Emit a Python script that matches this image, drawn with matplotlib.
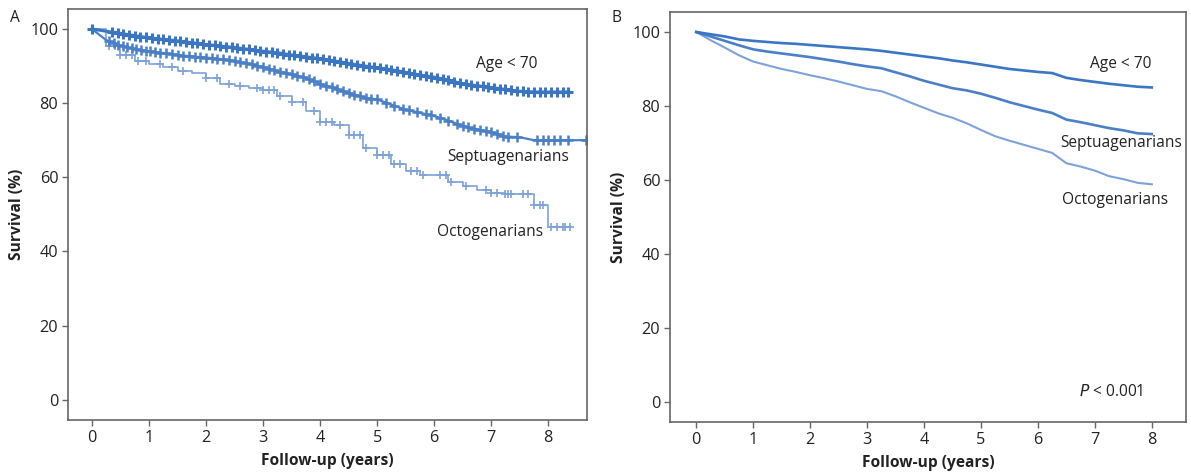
import numpy as np
import matplotlib
matplotlib.use("Agg")
import matplotlib.pyplot as plt

plt.rcParams['font.family'] = ['Open Sans', 'DejaVu Sans']

# ---- Panel A: Kaplan-Meier with censor marks ----
t_a = [0, 0.25, 0.5, 0.75, 1.0, 1.25, 1.5, 1.75, 2.0, 2.25, 2.5, 2.75, 3.0, 3.25,
       3.5, 3.75, 4.0, 4.25, 4.5, 4.75, 5.0, 5.25, 5.5, 5.75, 6.0, 6.25, 6.5, 6.75,
       7.0, 7.25, 7.5, 7.75, 8.0]
young_a = [100, 99.4, 98.8, 98.2, 97.6, 97.2, 96.8, 96.3, 95.8, 95.4, 95.0, 94.5, 94.0,
           93.6, 93.0, 92.5, 92.0, 91.4, 90.7, 90.1, 89.5, 89.0, 88.3, 87.6, 87.0, 86.2,
           85.2, 84.7, 84.2, 83.7, 83.2, 83.0, 83.0]
septa_a = [100, 97.0, 95.5, 94.6, 94.0, 93.5, 93.0, 92.6, 92.3, 91.9, 91.4, 90.6, 89.8,
           88.6, 87.8, 86.8, 85.2, 84.0, 82.8, 81.6, 81.0, 79.6, 78.2, 77.4, 76.5, 75.3,
           73.8, 72.9, 72.2, 71.0, 70.8, 70.0, 70.0]
octo_a = [100, 95.5, 93.0, 91.5, 90.5, 89.8, 88.8, 88.0, 86.8, 85.2, 84.5, 84.2, 83.5,
          82.0, 80.3, 78.0, 74.8, 74.2, 71.5, 68.0, 66.0, 63.6, 61.6, 60.5, 60.5, 58.6,
          57.6, 56.5, 55.8, 55.5, 55.5, 52.4, 46.5]
end_a = {'young': 8.35, 'septa': 8.67, 'octo': 8.38}

cens_young = [0.0, 0.35, 0.45, 0.55, 0.65, 0.75, 0.85, 0.95, 1.05, 1.15, 1.25, 1.35, 1.45,
              1.55, 1.65, 1.75, 1.85, 1.95, 2.05, 2.15, 2.25, 2.35, 2.45, 2.55, 2.65, 2.75,
              2.85, 2.95, 3.05, 3.15, 3.25, 3.35, 3.45, 3.55, 3.65, 3.75, 3.85, 3.95, 4.05,
              4.15, 4.25, 4.35, 4.45, 4.55, 4.65, 4.75, 4.85, 4.95, 5.05, 5.15, 5.25, 5.35,
              5.45, 5.55, 5.65, 5.75, 5.85, 5.95, 6.05, 6.15, 6.25, 6.35, 6.45, 6.55, 6.65,
              6.75, 6.85, 6.95, 7.05, 7.15, 7.25, 7.35, 7.45, 7.55, 7.65, 7.75, 7.85, 7.95,
              8.05, 8.15, 8.25, 8.35]
cens_septa = [0.3, 0.38, 0.46, 0.54, 0.62, 0.7, 0.78, 0.86, 0.94, 1.02, 1.1, 1.2, 1.3,
              1.4, 1.5, 1.6, 1.7, 1.8, 1.9, 2.0, 2.1, 2.2, 2.3, 2.4, 2.5, 2.6, 2.7, 2.8,
              2.9, 3.0, 3.1, 3.2, 3.3, 3.4, 3.5, 3.6, 3.7, 3.8, 3.9, 4.0, 4.1, 4.2, 4.3,
              4.4, 4.5, 4.6, 4.7, 4.8, 4.9, 5.0, 5.15, 5.3, 5.45, 5.55, 5.7, 5.85, 5.95,
              6.1, 6.25, 6.4, 6.5, 6.6, 6.7, 6.8, 6.9, 7.0, 7.1, 7.2, 7.3, 7.45, 7.8,
              7.9, 8.0, 8.1, 8.2, 8.35, 8.67]
cens_octo = [0.3, 0.4, 0.5, 0.6, 0.7, 0.8, 0.95, 1.2, 1.4, 1.6, 2.0, 2.2, 2.4, 2.6, 2.9,
             3.0, 3.1, 3.2, 3.3, 3.5, 3.7, 3.9, 4.0, 4.1, 4.2, 4.35, 4.5, 4.6, 4.7, 4.8,
             5.0, 5.1, 5.2, 5.3, 5.4, 5.6, 5.7, 5.8, 6.1, 6.2, 6.3, 6.55, 6.9, 7.0, 7.1,
             7.25, 7.3, 7.35, 7.55, 7.65, 7.75, 7.85, 7.9, 8.05, 8.15, 8.25, 8.3, 8.38]

# ---- Panel B: adjusted curves ----
t_b = t_a
young_b = [100, 99.4, 98.8, 98.0, 97.6, 97.3, 97.0, 96.8, 96.5, 96.2, 95.9, 95.6, 95.3,
           94.9, 94.4, 93.9, 93.4, 92.9, 92.3, 91.8, 91.2, 90.6, 90.0, 89.6, 89.2, 88.9,
           87.6, 87.0, 86.5, 86.0, 85.6, 85.2, 85.0]
septa_b = [100, 98.8, 97.6, 96.4, 95.3, 94.7, 94.2, 93.7, 93.2, 92.6, 92.0, 91.3, 90.7,
           90.2, 89.1, 88.0, 86.8, 85.8, 84.8, 84.2, 83.3, 82.2, 81.0, 80.0, 79.0, 78.1,
           76.3, 75.6, 74.8, 74.0, 73.4, 72.6, 72.4]
octo_b = [100, 97.8, 95.8, 93.7, 92.0, 91.0, 90.0, 89.2, 88.3, 87.5, 86.6, 85.6, 84.6,
          84.0, 82.6, 81.0, 79.5, 78.0, 76.8, 75.3, 73.5, 71.8, 70.6, 69.5, 68.4, 67.3,
          64.5, 63.6, 62.5, 61.0, 60.2, 59.2, 58.8]

c_young = '#3a76c4'
c_septa = '#4a80c8'
c_octo = '#7ea2da'
spine_c = '#666666'
txt_c = '#222222'
fs = 11.2

fig = plt.figure(figsize=(11.91, 4.76), dpi=100)
axA = fig.add_axes([0.0571, 0.1176, 0.4358, 0.8635])
axB = fig.add_axes([0.5626, 0.1134, 0.4332, 0.8613])


def surv_at(t, s, times):
    idx = np.searchsorted(np.array(t), np.array(times), side='right') - 1
    return np.array(s)[idx]


# octogenarians: visible steps
tt = t_a + [end_a['octo']]
axA.plot(tt, octo_a + [octo_a[-1]], drawstyle='steps-post', color=c_octo, lw=1.2)
axA.plot(cens_octo, surv_at(t_a, octo_a, cens_octo), ls='none', marker='+', ms=6,
         mew=1.2, color=c_octo)

# the other two groups are dense enough to look continuous
tt = t_a + [end_a['septa']]
axA.plot(tt, septa_a + [septa_a[-1]], color=c_septa, lw=1.6)
axA.plot(cens_septa, np.interp(cens_septa, tt, septa_a + [septa_a[-1]]), ls='none',
         marker='+', ms=6.5, mew=1.8, color=c_septa)

tt = t_a + [end_a['young']]
axA.plot(tt, young_a + [young_a[-1]], color=c_young, lw=2.2)
axA.plot(cens_young, np.interp(cens_young, tt, young_a + [young_a[-1]]), ls='none',
         marker='+', ms=7, mew=2.2, color=c_young)

axB.plot(t_b, octo_b, color=c_octo, lw=1.5)
axB.plot(t_b, septa_b, color=c_septa, lw=1.9)
axB.plot(t_b, young_b, color=c_young, lw=1.9)

axA.text(7.28, 90.5, 'Age < 70', ha='center', va='center', fontsize=fs, color=txt_c)
axA.text(7.3, 65.4, 'Septuagenarians', ha='center', va='center', fontsize=fs, color=txt_c)
axA.text(6.98, 45.1, 'Octogenarians', ha='center', va='center', fontsize=fs, color=txt_c)
axB.text(7.46, 91.4, 'Age < 70', ha='center', va='center', fontsize=fs, color=txt_c)
axB.text(7.47, 70.0, 'Septuagenarians', ha='center', va='center', fontsize=fs, color=txt_c)
axB.text(7.35, 54.6, 'Octogenarians', ha='center', va='center', fontsize=fs, color=txt_c)
axB.text(7.28, 2.7, r'$P$ < 0.001', ha='center', va='center', fontsize=fs, color=txt_c)

for ax, xl in [(axA, (-0.42, 8.68)), (axB, (-0.46, 8.6))]:
    ax.set_xlim(*xl)
    ax.set_ylim(-5.5, 105.4)
    ax.set_xticks(range(0, 9))
    ax.set_yticks(range(0, 101, 20))
    for sp in ax.spines.values():
        sp.set_color(spine_c)
        sp.set_linewidth(1.2)
    ax.tick_params(direction='out', length=4, width=1, color=spine_c, pad=3,
                   labelsize=fs + 0.5, labelcolor=txt_c)
    ax.set_xlabel('Follow-up (years)', fontsize=fs, fontweight='bold', color=txt_c)
    ax.set_ylabel('Survival (%)', fontsize=fs, fontweight='bold', color=txt_c)
    ax.xaxis.set_label_coords(0.5, -0.08)
    ax.yaxis.set_label_coords(-0.083, 0.5)

fig.text(0.0126, 0.962, 'A', fontsize=fs, color=txt_c, ha='center', va='center')
fig.text(0.518, 0.962, 'B', fontsize=fs, color=txt_c, ha='center', va='center')

fig.savefig('out.png', dpi=100)
